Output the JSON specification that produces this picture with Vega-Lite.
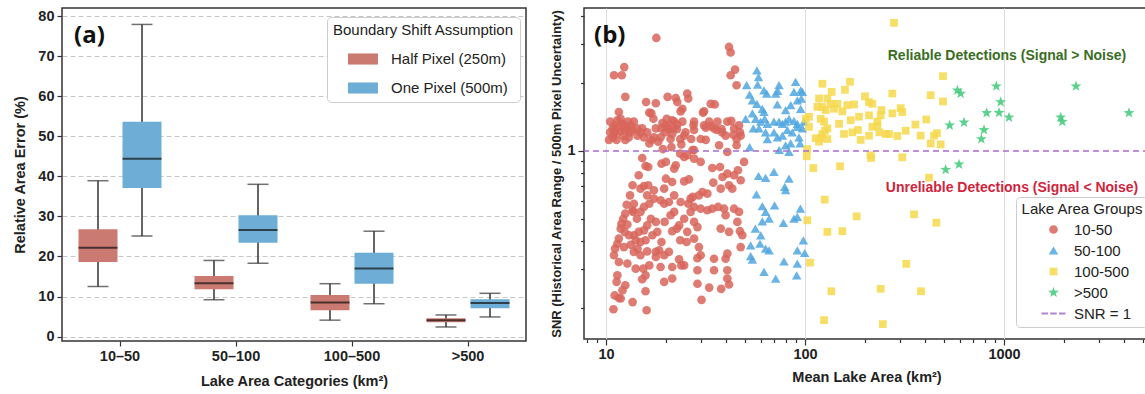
{
  "$schema": "https://vega.github.io/schema/vega-lite/v6.json",
  "autosize": {"type": "pad"},
  "padding": {"left": 12, "top": 6, "right": 0, "bottom": 0},
  "background": "white",
  "spacing": 23,
  "config": {
    "font": "Liberation Sans",
    "view": {"stroke": "#333333", "strokeWidth": 1.5},
    "axis": {"labelFont": "Liberation Sans", "labelFontSize": 14.5, "labelFontWeight": "bold", "labelColor": "#222222", "titleFont": "Liberation Sans", "titleFontSize": 14.5, "titleFontWeight": "bold", "titleColor": "#222222", "domain": false, "tickColor": "#333333", "tickWidth": 1.2},
    "legend": {"labelFont": "Liberation Sans", "titleFont": "Liberation Sans", "labelFontSize": 15, "titleFontSize": 15, "titleFontWeight": "normal", "labelColor": "#222222", "titleColor": "#222222", "strokeColor": "#cccccc", "fillColor": "white", "cornerRadius": 4, "titleLimit": 400, "labelLimit": 300}
  },
  "resolve": {"scale": {"color": "independent", "shape": "independent", "size": "independent"}, "legend": {"color": "independent", "shape": "independent", "size": "independent"}},
  "datasets": {
    "boxes": [
      {"cat": "10–50", "assump": "Half Pixel (250m)", "low": 12.5, "q1": 18.6, "med": 22.2, "q3": 26.8, "high": 38.9},
      {"cat": "10–50", "assump": "One Pixel (500m)", "low": 25.1, "q1": 37.1, "med": 44.4, "q3": 53.6, "high": 77.9},
      {"cat": "50–100", "assump": "Half Pixel (250m)", "low": 9.2, "q1": 11.8, "med": 13.3, "q3": 15.1, "high": 19.0},
      {"cat": "50–100", "assump": "One Pixel (500m)", "low": 18.3, "q1": 23.4, "med": 26.6, "q3": 30.3, "high": 38.0},
      {"cat": "100–500", "assump": "Half Pixel (250m)", "low": 4.1, "q1": 6.6, "med": 8.5, "q3": 10.4, "high": 13.2},
      {"cat": "100–500", "assump": "One Pixel (500m)", "low": 8.2, "q1": 13.2, "med": 17.0, "q3": 20.9, "high": 26.3},
      {"cat": ">500", "assump": "Half Pixel (250m)", "low": 2.4, "q1": 3.6, "med": 4.1, "q3": 4.6, "high": 5.4},
      {"cat": ">500", "assump": "One Pixel (500m)", "low": 4.9, "q1": 7.1, "med": 8.4, "q3": 9.3, "high": 10.8}
    ],
    "pts": [
      {"grp":"10-50","area":17.9,"snr":3.18},{"grp":"10-50","area":41.5,"snr":2.9},{"grp":"10-50","area":42.3,"snr":2.74},{"grp":"10-50","area":12.35,"snr":2.36},{"grp":"10-50","area":10.97,"snr":2.17},{"grp":"10-50","area":12.0,"snr":2.17},{"grp":"10-50","area":44.5,"snr":2.3},{"grp":"10-50","area":42.3,"snr":2.17},{"grp":"10-50","area":45.3,"snr":1.96},{"grp":"10-50","area":12.5,"snr":1.74},
      {"grp":"10-50","area":15.9,"snr":1.65},{"grp":"10-50","area":17.8,"snr":1.63},{"grp":"10-50","area":20.4,"snr":1.74},{"grp":"10-50","area":22.4,"snr":1.72},{"grp":"10-50","area":22.8,"snr":1.65},{"grp":"10-50","area":24.2,"snr":1.54},{"grp":"10-50","area":23.7,"snr":1.5},{"grp":"10-50","area":25.6,"snr":1.8},{"grp":"10-50","area":25.9,"snr":1.71},{"grp":"10-50","area":31.1,"snr":1.5},
      {"grp":"10-50","area":30.7,"snr":1.48},{"grp":"10-50","area":33.6,"snr":1.62},{"grp":"10-50","area":35.2,"snr":1.61},{"grp":"10-50","area":16.9,"snr":1.47},{"grp":"10-50","area":16.5,"snr":1.48},{"grp":"10-50","area":17.3,"snr":1.39},{"grp":"10-50","area":20.2,"snr":1.39},{"grp":"10-50","area":21.5,"snr":1.37},{"grp":"10-50","area":22.0,"snr":1.35},{"grp":"10-50","area":27.7,"snr":1.35},
      {"grp":"10-50","area":27.5,"snr":1.3},{"grp":"10-50","area":31.1,"snr":1.3},{"grp":"10-50","area":33.0,"snr":1.35},{"grp":"10-50","area":36.3,"snr":1.35},{"grp":"10-50","area":36.0,"snr":1.24},{"grp":"10-50","area":38.3,"snr":1.21},{"grp":"10-50","area":40.7,"snr":1.35},{"grp":"10-50","area":42.6,"snr":1.36},{"grp":"10-50","area":44.0,"snr":1.26},{"grp":"10-50","area":46.6,"snr":1.3},
      {"grp":"10-50","area":47.1,"snr":1.21},{"grp":"10-50","area":45.3,"snr":1.13},{"grp":"10-50","area":43.6,"snr":1.18},{"grp":"10-50","area":39.9,"snr":1.17},{"grp":"10-50","area":38.1,"snr":1.25},{"grp":"10-50","area":34.9,"snr":1.26},{"grp":"10-50","area":33.6,"snr":1.29},{"grp":"10-50","area":31.7,"snr":1.27},{"grp":"10-50","area":27.7,"snr":1.24},{"grp":"10-50","area":26.8,"snr":1.13},
      {"grp":"10-50","area":24.7,"snr":1.17},{"grp":"10-50","area":23.6,"snr":1.13},{"grp":"10-50","area":22.7,"snr":1.25},{"grp":"10-50","area":21.5,"snr":1.19},{"grp":"10-50","area":20.7,"snr":1.25},{"grp":"10-50","area":19.8,"snr":1.21},{"grp":"10-50","area":19.0,"snr":1.26},{"grp":"10-50","area":18.3,"snr":1.1},{"grp":"10-50","area":17.4,"snr":1.15},{"grp":"10-50","area":16.9,"snr":1.12},
      {"grp":"10-50","area":16.1,"snr":1.21},{"grp":"10-50","area":15.5,"snr":1.15},{"grp":"10-50","area":14.9,"snr":1.21},{"grp":"10-50","area":14.3,"snr":1.26},{"grp":"10-50","area":13.8,"snr":1.35},{"grp":"10-50","area":12.9,"snr":1.35},{"grp":"10-50","area":12.5,"snr":1.24},{"grp":"10-50","area":11.6,"snr":1.49},{"grp":"10-50","area":11.4,"snr":1.37},{"grp":"10-50","area":10.8,"snr":1.26},
      {"grp":"10-50","area":10.5,"snr":1.21},{"grp":"10-50","area":10.35,"snr":1.12},{"grp":"10-50","area":10.97,"snr":1.17},{"grp":"10-50","area":11.05,"snr":1.3},{"grp":"10-50","area":11.8,"snr":1.22},{"grp":"10-50","area":12.1,"snr":1.32},{"grp":"10-50","area":12.3,"snr":1.3},{"grp":"10-50","area":12.5,"snr":1.12},{"grp":"10-50","area":13.2,"snr":1.21},{"grp":"10-50","area":13.3,"snr":1.3},
      {"grp":"10-50","area":14.4,"snr":1.17},{"grp":"10-50","area":15.2,"snr":1.26},{"grp":"10-50","area":16.5,"snr":1.08},{"grp":"10-50","area":18.8,"snr":1.15},{"grp":"10-50","area":21.1,"snr":1.13},{"grp":"10-50","area":21.3,"snr":1.04},{"grp":"10-50","area":23.9,"snr":1.07},{"grp":"10-50","area":25.1,"snr":1.21},{"grp":"10-50","area":27.7,"snr":1.01},{"grp":"10-50","area":31.7,"snr":1.12},
      {"grp":"10-50","area":29.9,"snr":1.13},{"grp":"10-50","area":37.0,"snr":1.06},{"grp":"10-50","area":40.7,"snr":0.99},{"grp":"10-50","area":45.3,"snr":1.06},{"grp":"10-50","area":47.5,"snr":1.17},{"grp":"10-50","area":24.2,"snr":1.35},{"grp":"10-50","area":21.8,"snr":1.26},{"grp":"10-50","area":20.0,"snr":1.3},{"grp":"10-50","area":17.8,"snr":1.26},{"grp":"10-50","area":19.2,"snr":1.33},
      {"grp":"10-50","area":20.4,"snr":1.28},{"grp":"10-50","area":22.8,"snr":1.31},{"grp":"10-50","area":10.5,"snr":1.35},{"grp":"10-50","area":11.1,"snr":1.21},{"grp":"10-50","area":11.5,"snr":1.27},{"grp":"10-50","area":12.2,"snr":1.17},{"grp":"10-50","area":10.8,"snr":1.15},{"grp":"10-50","area":12.8,"snr":1.26},{"grp":"10-50","area":11.85,"snr":1.39},{"grp":"10-50","area":13.6,"snr":1.24},
      {"grp":"10-50","area":11.3,"snr":1.12},{"grp":"10-50","area":13.0,"snr":1.15},
      {"grp":"10-50","area":19.3,"snr":1.02},{"grp":"10-50","area":23.6,"snr":0.973},{"grp":"10-50","area":27.2,"snr":1.01},{"grp":"10-50","area":15.2,"snr":0.931},{"grp":"10-50","area":15.8,"snr":0.858},{"grp":"10-50","area":16.3,"snr":0.849},{"grp":"10-50","area":19.0,"snr":0.878},{"grp":"10-50","area":20.0,"snr":0.894},{"grp":"10-50","area":22.4,"snr":0.864},{"grp":"10-50","area":22.0,"snr":0.835},
      {"grp":"10-50","area":24.7,"snr":0.94},{"grp":"10-50","area":25.6,"snr":0.957},{"grp":"10-50","area":27.7,"snr":0.925},{"grp":"10-50","area":29.9,"snr":0.894},{"grp":"10-50","area":34.2,"snr":0.84},{"grp":"10-50","area":37.4,"snr":0.849},{"grp":"10-50","area":38.5,"snr":0.766},{"grp":"10-50","area":40.7,"snr":0.793},{"grp":"10-50","area":44.0,"snr":0.78},{"grp":"10-50","area":46.0,"snr":0.821},
      {"grp":"10-50","area":49.4,"snr":0.894},{"grp":"10-50","area":47.5,"snr":0.741},{"grp":"10-50","area":41.5,"snr":0.704},{"grp":"10-50","area":43.1,"snr":0.68},{"grp":"10-50","area":37.7,"snr":0.68},{"grp":"10-50","area":34.6,"snr":0.723},{"grp":"10-50","area":32.3,"snr":0.646},{"grp":"10-50","area":30.5,"snr":0.657},{"grp":"10-50","area":29.3,"snr":0.635},{"grp":"10-50","area":27.3,"snr":0.625},
      {"grp":"10-50","area":24.7,"snr":0.733},{"grp":"10-50","area":26.1,"snr":0.748},{"grp":"10-50","area":21.5,"snr":0.728},{"grp":"10-50","area":20.0,"snr":0.753},{"grp":"10-50","area":19.6,"snr":0.68},{"grp":"10-50","area":17.4,"snr":0.669},{"grp":"10-50","area":16.3,"snr":0.704},{"grp":"10-50","area":15.5,"snr":0.699},{"grp":"10-50","area":14.9,"snr":0.68},{"grp":"10-50","area":14.6,"snr":0.78},
      {"grp":"10-50","area":13.6,"snr":0.704},{"grp":"10-50","area":13.2,"snr":0.635},{"grp":"10-50","area":12.7,"snr":0.577},{"grp":"10-50","area":13.8,"snr":0.583},{"grp":"10-50","area":13.6,"snr":0.545},{"grp":"10-50","area":12.5,"snr":0.527},{"grp":"10-50","area":12.2,"snr":0.5},{"grp":"10-50","area":11.95,"snr":0.475},{"grp":"10-50","area":12.8,"snr":0.471},{"grp":"10-50","area":13.7,"snr":0.536},
      {"grp":"10-50","area":14.3,"snr":0.5},{"grp":"10-50","area":14.9,"snr":0.536},{"grp":"10-50","area":15.5,"snr":0.564},{"grp":"10-50","area":16.5,"snr":0.583},{"grp":"10-50","area":16.1,"snr":0.635},{"grp":"10-50","area":17.4,"snr":0.614},{"grp":"10-50","area":18.8,"snr":0.604},{"grp":"10-50","area":19.6,"snr":0.583},{"grp":"10-50","area":20.7,"snr":0.593},{"grp":"10-50","area":22.0,"snr":0.635},
      {"grp":"10-50","area":23.7,"snr":0.593},{"grp":"10-50","area":25.9,"snr":0.583},{"grp":"10-50","area":26.6,"snr":0.614},{"grp":"10-50","area":27.7,"snr":0.564},{"grp":"10-50","area":29.9,"snr":0.554},{"grp":"10-50","area":32.3,"snr":0.545},{"grp":"10-50","area":34.2,"snr":0.554},{"grp":"10-50","area":36.6,"snr":0.564},{"grp":"10-50","area":39.2,"snr":0.554},{"grp":"10-50","area":44.0,"snr":0.554},
      {"grp":"10-50","area":46.6,"snr":0.536},{"grp":"10-50","area":45.7,"snr":0.484},{"grp":"10-50","area":47.1,"snr":0.44},{"grp":"10-50","area":41.5,"snr":0.437},{"grp":"10-50","area":39.9,"snr":0.518},{"grp":"10-50","area":37.7,"snr":0.452},{"grp":"10-50","area":28.8,"snr":0.459},{"grp":"10-50","area":27.7,"snr":0.484},{"grp":"10-50","area":26.6,"snr":0.536},{"grp":"10-50","area":24.7,"snr":0.5},
      {"grp":"10-50","area":23.3,"snr":0.467},{"grp":"10-50","area":22.7,"snr":0.452},{"grp":"10-50","area":22.0,"snr":0.536},{"grp":"10-50","area":21.1,"snr":0.518},{"grp":"10-50","area":19.7,"snr":0.484},{"grp":"10-50","area":17.8,"snr":0.484},{"grp":"10-50","area":16.8,"snr":0.5},{"grp":"10-50","area":16.1,"snr":0.467},{"grp":"10-50","area":15.5,"snr":0.444},{"grp":"10-50","area":14.6,"snr":0.437},
      {"grp":"10-50","area":13.8,"snr":0.422},{"grp":"10-50","area":13.05,"snr":0.422},{"grp":"10-50","area":12.4,"snr":0.437},{"grp":"10-50","area":11.85,"snr":0.452},{"grp":"10-50","area":11.6,"snr":0.408},{"grp":"10-50","area":11.4,"snr":0.387},{"grp":"10-50","area":12.3,"snr":0.374},{"grp":"10-50","area":13.3,"snr":0.383},{"grp":"10-50","area":14.4,"snr":0.368},{"grp":"10-50","area":16.1,"snr":0.358},
      {"grp":"10-50","area":17.8,"snr":0.356},{"grp":"10-50","area":18.5,"snr":0.362},{"grp":"10-50","area":17.8,"snr":0.338},{"grp":"10-50","area":19.6,"snr":0.344},{"grp":"10-50","area":20.7,"snr":0.356},{"grp":"10-50","area":23.3,"snr":0.33},{"grp":"10-50","area":24.7,"snr":0.31},{"grp":"10-50","area":25.4,"snr":0.394},{"grp":"10-50","area":27.7,"snr":0.408},{"grp":"10-50","area":29.3,"snr":0.374},
      {"grp":"10-50","area":29.9,"snr":0.344},{"grp":"10-50","area":28.8,"snr":0.334},{"grp":"10-50","area":25.6,"snr":0.437},{"grp":"10-50","area":23.6,"snr":0.401},{"grp":"10-50","area":21.5,"snr":0.44},{"grp":"10-50","area":19.0,"snr":0.394},{"grp":"10-50","area":18.1,"snr":0.437},{"grp":"10-50","area":17.1,"snr":0.422},{"grp":"10-50","area":15.8,"snr":0.401},{"grp":"10-50","area":14.9,"snr":0.394},
      {"grp":"10-50","area":14.1,"snr":0.401},{"grp":"10-50","area":11.1,"snr":0.368},{"grp":"10-50","area":10.97,"snr":0.344},{"grp":"10-50","area":11.6,"snr":0.321},{"grp":"10-50","area":12.8,"snr":0.316},{"grp":"10-50","area":13.8,"snr":0.356},{"grp":"10-50","area":14.9,"snr":0.344},{"grp":"10-50","area":16.5,"snr":0.31},{"grp":"10-50","area":18.8,"snr":0.305},{"grp":"10-50","area":21.5,"snr":0.305},
      {"grp":"10-50","area":23.9,"snr":0.31},{"grp":"10-50","area":28.8,"snr":0.295},{"grp":"10-50","area":34.9,"snr":0.332},{"grp":"10-50","area":39.9,"snr":0.332},{"grp":"10-50","area":40.7,"snr":0.35},{"grp":"10-50","area":40.7,"snr":0.295},{"grp":"10-50","area":34.9,"snr":0.295},{"grp":"10-50","area":47.5,"snr":0.374},{"grp":"10-50","area":48.4,"snr":0.422},{"grp":"10-50","area":15.4,"snr":0.3},
      {"grp":"10-50","area":14.1,"snr":0.3},{"grp":"10-50","area":11.4,"snr":0.28},{"grp":"10-50","area":11.3,"snr":0.262},{"grp":"10-50","area":12.5,"snr":0.253},{"grp":"10-50","area":15.2,"snr":0.269},{"grp":"10-50","area":15.8,"snr":0.28},{"grp":"10-50","area":19.6,"snr":0.262},{"grp":"10-50","area":21.5,"snr":0.271},{"grp":"10-50","area":28.8,"snr":0.257},{"grp":"10-50","area":33.0,"snr":0.247},
      {"grp":"10-50","area":37.9,"snr":0.244},{"grp":"10-50","area":41.5,"snr":0.255},{"grp":"10-50","area":12.1,"snr":0.24},{"grp":"10-50","area":11.6,"snr":0.222},{"grp":"10-50","area":11.05,"snr":0.228},{"grp":"10-50","area":11.85,"snr":0.221},{"grp":"10-50","area":13.6,"snr":0.213},{"grp":"10-50","area":15.8,"snr":0.238},{"grp":"10-50","area":30.2,"snr":0.218},{"grp":"10-50","area":10.9,"snr":0.198},
      {"grp":"10-50","area":16.0,"snr":0.196},{"grp":"10-50","area":40.7,"snr":0.271},
      {"grp":"50-100","area":57.3,"snr":2.28},{"grp":"50-100","area":58.4,"snr":2.13},{"grp":"50-100","area":50.9,"snr":1.96},{"grp":"50-100","area":57.8,"snr":1.97},{"grp":"50-100","area":62.2,"snr":1.86},{"grp":"50-100","area":64.2,"snr":1.8},{"grp":"50-100","area":74.0,"snr":1.96},{"grp":"50-100","area":72.9,"snr":1.85},{"grp":"50-100","area":71.2,"snr":1.8},{"grp":"50-100","area":89.7,"snr":2.03},
      {"grp":"50-100","area":88.0,"snr":1.83},{"grp":"50-100","area":95.1,"snr":1.86},{"grp":"50-100","area":97.0,"snr":1.83},{"grp":"50-100","area":91.5,"snr":1.68},{"grp":"50-100","area":95.8,"snr":1.71},{"grp":"50-100","area":52.7,"snr":1.78},{"grp":"50-100","area":54.4,"snr":1.68},{"grp":"50-100","area":57.3,"snr":1.62},{"grp":"50-100","area":61.0,"snr":1.54},{"grp":"50-100","area":62.2,"snr":1.49},
      {"grp":"50-100","area":54.4,"snr":1.47},{"grp":"50-100","area":50.3,"snr":1.39},{"grp":"50-100","area":56.5,"snr":1.39},{"grp":"50-100","area":59.9,"snr":1.35},{"grp":"50-100","area":62.7,"snr":1.39},{"grp":"50-100","area":64.7,"snr":1.32},{"grp":"50-100","area":55.0,"snr":1.26},{"grp":"50-100","area":58.7,"snr":1.26},{"grp":"50-100","area":72.6,"snr":1.61},{"grp":"50-100","area":79.9,"snr":1.52},
      {"grp":"50-100","area":83.1,"snr":1.39},{"grp":"50-100","area":84.7,"snr":1.6},{"grp":"50-100","area":95.1,"snr":1.54},{"grp":"50-100","area":69.8,"snr":1.35},{"grp":"50-100","area":74.0,"snr":1.35},{"grp":"50-100","area":77.0,"snr":1.32},{"grp":"50-100","area":79.9,"snr":1.35},{"grp":"50-100","area":88.0,"snr":1.36},{"grp":"50-100","area":91.5,"snr":1.32},{"grp":"50-100","area":98.9,"snr":1.35},
      {"grp":"50-100","area":97.0,"snr":1.26},{"grp":"50-100","area":69.8,"snr":1.21},{"grp":"50-100","area":72.6,"snr":1.15},{"grp":"50-100","area":77.0,"snr":1.17},{"grp":"50-100","area":81.5,"snr":1.24},{"grp":"50-100","area":86.3,"snr":1.21},{"grp":"50-100","area":91.5,"snr":1.28},{"grp":"50-100","area":93.3,"snr":1.15},{"grp":"50-100","area":84.7,"snr":1.08},{"grp":"50-100","area":79.9,"snr":1.06},
      {"grp":"50-100","area":74.2,"snr":1.01},{"grp":"50-100","area":83.1,"snr":0.99},{"grp":"50-100","area":94.4,"snr":1.08},{"grp":"50-100","area":52.7,"snr":1.04},{"grp":"50-100","area":64.7,"snr":1.13},{"grp":"50-100","area":63.4,"snr":1.21},{"grp":"50-100","area":58.4,"snr":0.774},{"grp":"50-100","area":63.4,"snr":0.759},{"grp":"50-100","area":69.8,"snr":0.807},{"grp":"50-100","area":83.1,"snr":0.753},
      {"grp":"50-100","area":79.1,"snr":0.692},{"grp":"50-100","area":79.9,"snr":0.669},{"grp":"50-100","area":57.0,"snr":0.642},{"grp":"50-100","area":61.0,"snr":0.569},{"grp":"50-100","area":63.4,"snr":0.536},{"grp":"50-100","area":70.3,"snr":0.573},{"grp":"50-100","area":61.0,"snr":0.487},{"grp":"50-100","area":77.9,"snr":0.479},{"grp":"50-100","area":88.0,"snr":0.5},{"grp":"50-100","area":94.8,"snr":0.554},
      {"grp":"50-100","area":91.5,"snr":0.509},{"grp":"50-100","area":56.3,"snr":0.452},{"grp":"50-100","area":59.9,"snr":0.422},{"grp":"50-100","area":63.4,"snr":0.368},{"grp":"50-100","area":66.0,"snr":0.362},{"grp":"50-100","area":59.4,"snr":0.387},{"grp":"50-100","area":53.3,"snr":0.381},{"grp":"50-100","area":53.3,"snr":0.341},{"grp":"50-100","area":54.4,"snr":0.329},{"grp":"50-100","area":62.2,"snr":0.29},
      {"grp":"50-100","area":71.2,"snr":0.271},{"grp":"50-100","area":78.4,"snr":0.323},{"grp":"50-100","area":91.5,"snr":0.316},{"grp":"50-100","area":90.8,"snr":0.28},{"grp":"50-100","area":98.1,"snr":0.401},{"grp":"50-100","area":99.6,"snr":0.352},{"grp":"50-100","area":91.5,"snr":0.362},{"grp":"50-100","area":66.0,"snr":0.5},
      {"grp":"100-500","area":493.7,"snr":2.15},{"grp":"100-500","area":122.2,"snr":1.99},{"grp":"100-500","area":168.3,"snr":2.03},{"grp":"100-500","area":136.1,"snr":1.83},{"grp":"100-500","area":158.8,"snr":1.87},{"grp":"100-500","area":117.6,"snr":1.71},{"grp":"100-500","area":129.5,"snr":1.71},{"grp":"100-500","area":134.6,"snr":1.62},{"grp":"100-500","area":145.4,"snr":1.62},{"grp":"100-500","area":200.2,"snr":1.75},
      {"grp":"100-500","area":209.7,"snr":1.65},{"grp":"100-500","area":217.9,"snr":1.62},{"grp":"100-500","area":274.7,"snr":1.8},{"grp":"100-500","area":428,"snr":1.77},{"grp":"100-500","area":493.7,"snr":1.66},{"grp":"100-500","area":104.7,"snr":1.42},{"grp":"100-500","area":101,"snr":1.39},{"grp":"100-500","area":115.3,"snr":1.57},{"grp":"100-500","area":122.2,"snr":1.57},{"grp":"100-500","area":127.0,"snr":1.52},
      {"grp":"100-500","area":139.9,"snr":1.54},{"grp":"100-500","area":154.0,"snr":1.5},{"grp":"100-500","area":163.2,"snr":1.6},{"grp":"100-500","area":176.3,"snr":1.61},{"grp":"100-500","area":186.8,"snr":1.42},{"grp":"100-500","area":169.6,"snr":1.37},{"grp":"100-500","area":209.7,"snr":1.44},{"grp":"100-500","area":230.9,"snr":1.35},{"grp":"100-500","area":242.3,"snr":1.52},{"grp":"100-500","area":240.0,"snr":1.44},
      {"grp":"100-500","area":274.7,"snr":1.47},{"grp":"100-500","area":302.5,"snr":1.55},{"grp":"100-500","area":308.2,"snr":1.49},{"grp":"100-500","area":358.8,"snr":1.31},{"grp":"100-500","area":407,"snr":1.38},{"grp":"100-500","area":460.3,"snr":1.2},{"grp":"100-500","area":444.9,"snr":1.17},{"grp":"100-500","area":428,"snr":1.08},{"grp":"100-500","area":480.5,"snr":1.07},{"grp":"100-500","area":320.5,"snr":1.23},
      {"grp":"100-500","area":291.1,"snr":1.166},{"grp":"100-500","area":264.3,"snr":1.19},{"grp":"100-500","area":254.3,"snr":1.19},{"grp":"100-500","area":236.3,"snr":1.21},{"grp":"100-500","area":217.9,"snr":1.28},{"grp":"100-500","area":209.7,"snr":1.17},{"grp":"100-500","area":190.5,"snr":1.12},{"grp":"100-500","area":184.5,"snr":1.24},{"grp":"100-500","area":172.9,"snr":1.21},{"grp":"100-500","area":157.0,"snr":1.19},
      {"grp":"100-500","area":148.3,"snr":1.32},{"grp":"100-500","area":129.5,"snr":1.26},{"grp":"100-500","area":124.6,"snr":1.35},{"grp":"100-500","area":122.2,"snr":1.19},{"grp":"100-500","area":119.9,"snr":1.14},{"grp":"100-500","area":129.5,"snr":1.13},{"grp":"100-500","area":117.6,"snr":1.1},{"grp":"100-500","area":113.1,"snr":1.14},{"grp":"100-500","area":230.9,"snr":1.3},{"grp":"100-500","area":102.7,"snr":1.02},
      {"grp":"100-500","area":102,"snr":0.947},{"grp":"100-500","area":110.1,"snr":0.84},{"grp":"100-500","area":150.0,"snr":0.855},{"grp":"100-500","area":213.5,"snr":0.957},{"grp":"100-500","area":215,"snr":0.931},{"grp":"100-500","area":308.2,"snr":0.937},{"grp":"100-500","area":420,"snr":0.761},{"grp":"100-500","area":125.6,"snr":0.608},{"grp":"100-500","area":181.8,"snr":0.512},{"grp":"100-500","area":353,"snr":0.523},
      {"grp":"100-500","area":457,"snr":0.48},{"grp":"100-500","area":102.7,"snr":0.492},{"grp":"100-500","area":129.5,"snr":0.437},{"grp":"100-500","area":154.0,"snr":0.44},{"grp":"100-500","area":106,"snr":0.319},{"grp":"100-500","area":322.8,"snr":0.315},{"grp":"100-500","area":135.6,"snr":0.238},{"grp":"100-500","area":240.0,"snr":0.244},{"grp":"100-500","area":382.8,"snr":0.238},{"grp":"100-500","area":124.6,"snr":0.177},
      {"grp":"100-500","area":246.2,"snr":0.17},{"grp":"100-500","area":104.7,"snr":1.28},{"grp":"100-500","area":119.9,"snr":1.39},{"grp":"100-500","area":126,"snr":1.23},{"grp":"100-500","area":381.2,"snr":1.17},{"grp":"100-500","area":280,"snr":3.71},
      {"grp":">500","area":582.9,"snr":1.86},{"grp":">500","area":605.6,"snr":1.8},{"grp":">500","area":915,"snr":1.94},{"grp":">500","area":962.5,"snr":1.65},{"grp":">500","area":818.3,"snr":1.476},{"grp":">500","area":944,"snr":1.48},{"grp":">500","area":1059.5,"snr":1.41},{"grp":">500","area":533.3,"snr":1.3},{"grp":">500","area":629.5,"snr":1.34},{"grp":">500","area":793.5,"snr":1.24},
      {"grp":">500","area":769.4,"snr":1.13},{"grp":">500","area":1927,"snr":1.41},{"grp":">500","area":1964,"snr":1.35},{"grp":">500","area":2300,"snr":1.94},{"grp":">500","area":4247,"snr":1.476},{"grp":">500","area":509.1,"snr":0.826},{"grp":">500","area":594.3,"snr":0.872}
    ]
  },
  "hconcat": [
    {
      "width": 464,
      "height": 333,
      "layer": [
        {
          "data": {"name": "boxes"},
          "encoding": {
            "x": {"field": "cat", "type": "nominal", "sort": ["10–50", "50–100", "100–500", ">500"], "scale": {"paddingInner": 0, "paddingOuter": 0}, "axis": {"title": "Lake Area Categories (km²)", "labelAngle": 0, "tickSize": 5, "labelPadding": 3, "titlePadding": 12, "grid": false}},
            "xOffset": {"field": "assump", "type": "nominal", "sort": ["Half Pixel (250m)", "One Pixel (500m)"], "scale": {"paddingInner": 0, "paddingOuter": 0.318}}
          },
          "layer": [
            {"mark": {"type": "rule", "color": "#333333", "strokeWidth": 1.5},
             "encoding": {
               "y": {"field": "low", "type": "quantitative", "scale": {"domain": [-1.1, 82], "nice": false, "zero": false}, "axis": {"title": "Relative Area Error (%)", "values": [0, 10, 20, 30, 40, 50, 60, 70, 80], "grid": true, "gridDash": [5, 3], "gridColor": "#c8c8c8", "gridWidth": 1, "tickSize": 5, "labelPadding": 3, "titlePadding": 10}},
               "y2": {"field": "high"}}},
            {"mark": {"type": "bar", "width": 39},
             "encoding": {
               "y": {"field": "q1", "type": "quantitative", "title": "Relative Area Error (%)"},
               "y2": {"field": "q3"},
               "color": {"field": "assump", "type": "nominal", "scale": {"domain": ["Half Pixel (250m)", "One Pixel (500m)"], "range": ["#CB7A71", "#6EADD6"]},
                 "legend": {"title": "Boundary Shift Assumption", "orient": "none", "legendX": 265, "legendY": 9, "padding": 6, "titlePadding": 6, "rowPadding": 6, "symbolType": "M-1,-0.37H1V0.37H-1Z", "symbolSize": 900, "symbolStrokeWidth": 0, "symbolOffset": 10, "labelOffset": 13, "titleAnchor": "middle"}}}},
            {"mark": {"type": "tick", "size": 21, "thickness": 1.5, "color": "#333333"}, "encoding": {"y": {"field": "low", "type": "quantitative", "title": "Relative Area Error (%)"}}},
            {"mark": {"type": "tick", "size": 21, "thickness": 1.5, "color": "#333333"}, "encoding": {"y": {"field": "high", "type": "quantitative", "title": "Relative Area Error (%)"}}},
            {"mark": {"type": "tick", "size": 39, "thickness": 2, "color": "#111111"}, "encoding": {"y": {"field": "med", "type": "quantitative", "title": "Relative Area Error (%)"}}}
          ]
        },
        {
          "data": {"values": [{}]},
          "mark": {"type": "text", "align": "left", "baseline": "middle", "dx": -46, "font": "Open Sans", "fontSize": 24, "fontWeight": "bold", "color": "#111111"},
          "encoding": {"x": {"datum": "10–50", "type": "nominal"}, "y": {"datum": 75, "type": "quantitative"}, "text": {"value": "(a)"}}
        }
      ]
    },
    {
      "width": 565,
      "height": 331,
      "layer": [
        {"data": {"name": "pts"},
         "mark": {"type": "point", "filled": true, "opacity": 0.85, "strokeWidth": 0},
         "encoding": {
           "x": {"field": "area", "type": "quantitative", "scale": {"type": "log", "domain": [7.75, 5354], "nice": false},
             "axis": {"title": "Mean Lake Area (km²)", "format": "d", "values": [8, 9, 10, 20, 30, 40, 50, 60, 70, 80, 90, 100, 200, 300, 400, 500, 600, 700, 800, 900, 1000, 2000, 3000, 4000, 5000],
               "labelExpr": "(datum.value == 10 || datum.value == 100 || datum.value == 1000) ? datum.label : ''",
               "labelOverlap": false, "labelPadding": 2, "titlePadding": 10,
               "tickSize": {"condition": {"test": "datum.value == 10 || datum.value == 100 || datum.value == 1000", "value": 6}, "value": 3.5},
               "grid": true, "gridColor": "#dddddd", "gridWidth": 1,
               "gridOpacity": {"condition": {"test": "datum.value == 10 || datum.value == 100 || datum.value == 1000", "value": 1}, "value": 0}}},
           "y": {"field": "snr", "type": "quantitative", "scale": {"type": "log", "domain": [0.146, 4.32], "nice": false},
             "axis": {"title": "SNR (Historical Area Range / 500m Pixel Uncertainty)", "titleFontSize": 13, "values": [0.2, 0.3, 0.4, 0.5, 0.6, 0.7, 0.8, 0.9, 1, 2, 3, 4],
               "labelExpr": "datum.value == 1 ? '1' : ''", "labelOverlap": false, "labelPadding": 3, "titlePadding": 3, "grid": false,
               "tickSize": {"condition": {"test": "datum.value == 1", "value": 6}, "value": 3.5}}},
           "color": {"field": "grp", "type": "nominal", "scale": {"domain": ["10-50", "50-100", "100-500", ">500", "SNR = 1"], "range": ["#D8655A", "#4FA6E0", "#F6D84C", "#3DC978", "#A86CD0"]},
             "legend": {"title": "Lake Area Groups", "orient": "none", "legendX": 432, "legendY": 189, "padding": 5, "titlePadding": 5, "rowPadding": 5, "symbolSize": 125, "symbolOffset": 13, "labelOffset": 13, "titleAnchor": "middle"}},
           "shape": {"field": "grp", "type": "nominal", "scale": {"domain": ["10-50", "50-100", "100-500", ">500", "SNR = 1"], "range": ["circle", "triangle-up", "square", "M0,-1L0.235,-0.324L0.951,-0.309L0.38,0.124L0.588,0.809L0,0.4L-0.588,0.809L-0.38,0.124L-0.951,-0.309L-0.235,-0.324Z", "M-2.4,-0.18H-1.1V0.18H-2.4Z M-0.65,-0.18H0.65V0.18H-0.65Z M1.1,-0.18H2.4V0.18H1.1Z"]}},
           "size": {"field": "grp", "type": "nominal", "legend": null, "scale": {"type": "ordinal", "domain": ["10-50", "50-100", "100-500", ">500", "SNR = 1"], "range": [75, 90, 60, 130, 100]}}
         }},
        {"data": {"values": [{}]}, "mark": {"type": "rule", "color": "#A86CD0", "strokeWidth": 1.5, "strokeDash": [6, 4]}, "encoding": {"y": {"datum": 1}}},
        {"data": {"values": [{}]}, "mark": {"type": "text", "font": "Liberation Sans", "fontWeight": "bold", "fontSize": 14, "color": "#3A6E1F", "align": "center", "baseline": "middle"},
         "encoding": {"x": {"datum": 1035}, "y": {"datum": 2.64}, "text": {"value": "Reliable Detections (Signal > Noise)"}}},
        {"data": {"values": [{}]}, "mark": {"type": "text", "font": "Liberation Sans", "fontWeight": "bold", "fontSize": 14, "color": "#D0243C", "align": "center", "baseline": "middle"},
         "encoding": {"x": {"datum": 1097}, "y": {"datum": 0.685}, "text": {"value": "Unreliable Detections (Signal < Noise)"}}},
        {"data": {"values": [{}]}, "mark": {"type": "text", "align": "left", "baseline": "middle", "font": "Open Sans", "fontSize": 24, "fontWeight": "bold", "color": "#111111"},
         "encoding": {"x": {"datum": 8.7}, "y": {"datum": 3.24}, "text": {"value": "(b)"}}}
      ]
    }
  ]
}
